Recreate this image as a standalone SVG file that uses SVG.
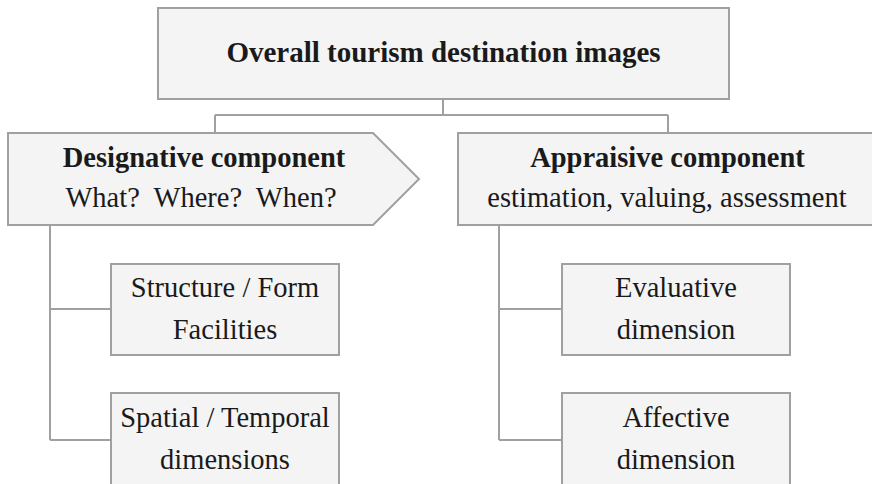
<svg xmlns="http://www.w3.org/2000/svg" width="872" height="484" viewBox="0 0 872 484">
<style>
.box{fill:#f4f4f4;stroke:#a0a0a0;stroke-width:2}
.conn{fill:none;stroke:#a0a0a0;stroke-width:2}
text{font-family:"Liberation Serif","Times New Roman",serif;font-size:28.5px;fill:#1a1a1a;text-anchor:middle;white-space:pre}
.b{font-weight:bold}
</style>
<rect width="872" height="484" fill="#ffffff"/>
<g id="connectors">
<path class="conn" d="M443,99 V115 M215,115 H668 M215,115 V133 M668,115 V133"/>
<path class="conn" d="M50,225 V440 M50,309 H111 M50,440 H111"/>
<path class="conn" d="M499,225 V440 M499,309 H562 M499,440 H562"/>
</g>
<g id="root">
<rect class="box" x="158" y="8" width="571" height="91"/>
<text class="b" x="443.5" y="62" style="font-size:29px">Overall tourism destination images</text>
</g>
<g id="designative">
<polygon class="box" points="8,133 373,133 419,179 373,225 8,225"/>
<text class="b" x="204" y="167">Designative component</text>
<text x="201" y="207" xml:space="preserve">What?  Where?  When?</text>
</g>
<g id="appraisive">
<rect class="box" x="458" y="133" width="420" height="92"/>
<text class="b" x="667.5" y="167">Appraisive component</text>
<text x="667" y="207">estimation, valuing, assessment</text>
</g>
<g id="structure">
<rect class="box" x="111" y="264" width="228" height="91"/>
<text x="225" y="297">Structure / Form</text>
<text x="225" y="339">Facilities</text>
</g>
<g id="spatial">
<rect class="box" x="111" y="393" width="228" height="100"/>
<text x="225" y="427">Spatial / Temporal</text>
<text x="225" y="469">dimensions</text>
</g>
<g id="evaluative">
<rect class="box" x="562" y="264" width="228" height="91"/>
<text x="676" y="297">Evaluative</text>
<text x="676" y="339">dimension</text>
</g>
<g id="affective">
<rect class="box" x="562" y="393" width="228" height="100"/>
<text x="676" y="427">Affective</text>
<text x="676" y="469">dimension</text>
</g>
</svg>
